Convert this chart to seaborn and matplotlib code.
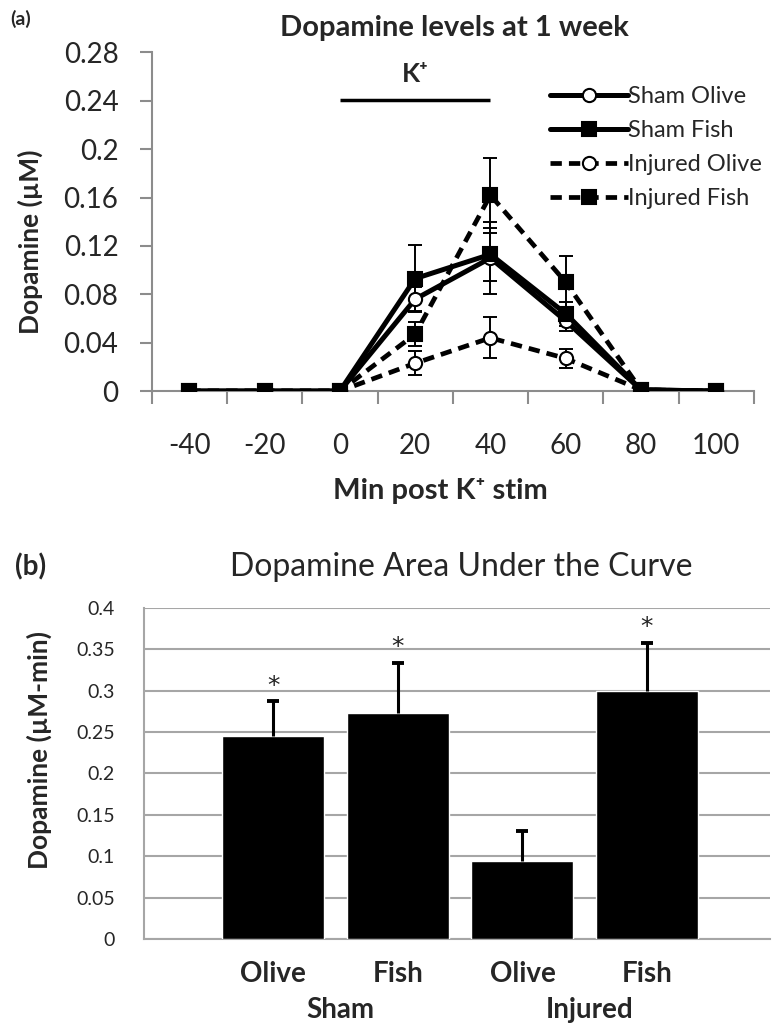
import numpy as np
import pandas as pd
import matplotlib
matplotlib.use("Agg")
import matplotlib.pyplot as plt
from matplotlib.transforms import blended_transform_factory
import seaborn as sns

# ---- panel (a): dopamine over time ----
time_labels = ["-40", "-20", "0", "20", "40", "60", "80", "100"]
sham_olive = [0, 0, 0, 0.076, 0.110, 0.058, 0.001, 0]
sham_olive_err = [0, 0, 0, 0.010, 0.030, 0.008, 0, 0]
sham_fish = [0, 0, 0, 0.093, 0.113, 0.064, 0.001, 0]
sham_fish_err = [0, 0, 0, 0.028, 0.022, 0.010, 0, 0]
injured_olive = [0, 0, 0, 0.023, 0.044, 0.027, 0.001, 0]
injured_olive_err = [0, 0, 0, 0.010, 0.017, 0.008, 0, 0]
injured_fish = [0, 0, 0, 0.047, 0.162, 0.090, 0.001, 0]
injured_fish_err = [0, 0, 0, 0.010, 0.031, 0.022, 0, 0]

# ---- panel (b): area under the curve ----
diet = ["Olive", "Fish", "Olive", "Fish"]
group = ["Sham", "Sham", "Injured", "Injured"]
auc = [0.245, 0.273, 0.094, 0.300]
auc_err = [0.042, 0.061, 0.036, 0.058]
signif = ["*", "*", "", "*"]

sns.set_theme(style="white")
plt.rcParams["font.family"] = ["Lato", "DejaVu Sans"]
plt.rcParams["axes.edgecolor"] = "#8c8c8c"

fig = plt.figure(figsize=(7.78, 10.28), dpi=100)
ax1 = fig.add_axes([0.195, 0.6196, 0.774, 0.3294])
ax2 = fig.add_axes([0.185, 0.0866, 0.805, 0.3220])

DASH = (2.4, 1.5)
pos = np.arange(len(time_labels))
series = [
    ("Sham Olive", sham_olive, sham_olive_err, "-", "o", "white"),
    ("Sham Fish", sham_fish, sham_fish_err, "-", "s", "black"),
    ("Injured Olive", injured_olive, injured_olive_err, "--", "o", "white"),
    ("Injured Fish", injured_fish, injured_fish_err, "--", "s", "black"),
]
for name, vals, errs, ls, mk, fc in series:
    df = pd.DataFrame({"t": pos, "v": vals})
    sns.lineplot(data=df, x="t", y="v", ax=ax1, color="black",
                 lw=3.6 if ls == "-" else 3.4,
                 linestyle=ls, marker=mk, markersize=10 if mk == "s" else 9.5,
                 markerfacecolor=fc, markeredgecolor="black", markeredgewidth=1.5,
                 label=name, zorder=3)
    errs = np.array(errs)
    m = errs > 0
    ax1.errorbar(pos[m], np.array(vals)[m], yerr=errs[m], fmt="none",
                 ecolor="black", elinewidth=1.4, capsize=5, capthick=1.4, zorder=2)

for line in ax1.get_lines():
    if line.get_linestyle() == "--":
        line.set_dashes(DASH)

ax1.set_xlim(-0.5, 7.5)
ax1.set_ylim(0, 0.28)
ax1.set_xticks(pos, time_labels)
ax1.set_xticks(np.arange(-0.5, 8.0, 1.0), minor=True)
ax1.tick_params(axis="x", which="major", length=0, pad=30, labelsize=20)
ax1.tick_params(axis="x", which="minor", length=9, width=1.5, color="#8c8c8c", direction="out", bottom=True)
yt = np.arange(0, 0.2801, 0.04)
ax1.set_yticks(yt, [f"{v:g}" for v in np.round(yt, 2)])
ax1.tick_params(axis="y", length=9, width=1.5, color="#8c8c8c", direction="out", left=True, labelsize=20, pad=15)
for s in ["top", "right"]:
    ax1.spines[s].set_visible(False)
for s in ["left", "bottom"]:
    ax1.spines[s].set_linewidth(1.5)
ax1.set_xlabel("Min post K⁺ stim", fontsize=21, fontweight="bold")
ax1.xaxis.set_label_coords(0.48, -0.257)
ax1.set_ylabel("Dopamine (µM)", fontsize=19, fontweight="bold")
ax1.yaxis.set_label_coords(-0.181, 0.44)
ax1.text(0.502, 1.071, "Dopamine levels at 1 week", transform=ax1.transAxes,
         ha="center", va="center", fontsize=21, fontweight="bold")

# K+ stimulation bar from 0 to 40 min
ax1.plot([2, 4], [0.241, 0.241], color="black", lw=2.5, solid_capstyle="butt")
ax1.text(3, 0.262, "K⁺", ha="center", va="center", fontsize=19, fontweight="bold")

leg = ax1.legend(loc="upper left", bbox_to_anchor=(0.661, 0.90), frameon=False,
                 fontsize=17, handlelength=3.3, handletextpad=0.0,
                 labelspacing=0.55, borderaxespad=0, borderpad=0)
for h in leg.legend_handles:
    if h.get_linestyle() == "--":
        h.set_dashes(DASH)

fig.text(0.013, 0.982, "(a)", fontsize=14, fontweight="bold", va="center")

# ---- panel (b) bars ----
keys = [f"{g} {d}" for g, d in zip(group, diet)]
dfb = pd.DataFrame({"key": keys, "auc": auc})
sns.barplot(data=dfb, x="key", y="auc", ax=ax2, color="black", width=0.82,
            saturation=1, errorbar=None, zorder=3)
xb = np.arange(len(keys))
eb = ax2.errorbar(xb, auc, yerr=[np.zeros(len(auc)), auc_err], fmt="none",
                  ecolor="black", elinewidth=2.2, capsize=4.5, capthick=2.8, zorder=4)
eb[1][0].set_visible(False)  # no lower cap sitting on the bar top
for i, s in enumerate(signif):
    if s:
        ax2.text(xb[i], auc[i] + auc_err[i] + 0.019, s, ha="center", va="center",
                 fontsize=18, color="#222222", family="DejaVu Sans")

ax2.set_xlim(-1.04, 3.99)
ax2.set_ylim(0, 0.4)
ybt = np.arange(0, 0.4001, 0.05)
ax2.set_yticks(ybt, [f"{v:g}" for v in np.round(ybt, 2)])
ax2.yaxis.grid(True, color="#a6a6a6", lw=1.5, zorder=0)
ax2.set_axisbelow(True)
ax2.tick_params(axis="y", length=0, labelsize=14, pad=21)
ax2.set_xticks(xb, diet)
ax2.tick_params(axis="x", length=0, labelsize=20, pad=16)
for lab in ax2.get_xticklabels():
    lab.set_fontweight("bold")
for s in ["top", "right"]:
    ax2.spines[s].set_visible(False)
ax2.spines["left"].set_color("#a6a6a6")
ax2.spines["bottom"].set_color("#a6a6a6")
ax2.spines["left"].set_linewidth(1.5)
ax2.spines["bottom"].set_linewidth(1.5)
ax2.set_xlabel("")
ax2.set_ylabel("Dopamine (µM-min)", fontsize=19, fontweight="bold")
ax2.yaxis.set_label_coords(-0.147, 0.571)
ax2.text(0.506, 1.124, "Dopamine Area Under the Curve", transform=ax2.transAxes,
         ha="center", va="center", fontsize=23)

trans = blended_transform_factory(ax2.transData, ax2.transAxes)
ax2.text(0.54, -0.2145, "Sham", transform=trans, ha="center", va="center",
         fontsize=20, fontweight="bold")
ax2.text(2.54, -0.2145, "Injured", transform=trans, ha="center", va="center",
         fontsize=20, fontweight="bold")

fig.text(0.019, 0.4484, "(b)", fontsize=20, fontweight="bold", va="center")

fig.savefig("out.png", dpi=100)
